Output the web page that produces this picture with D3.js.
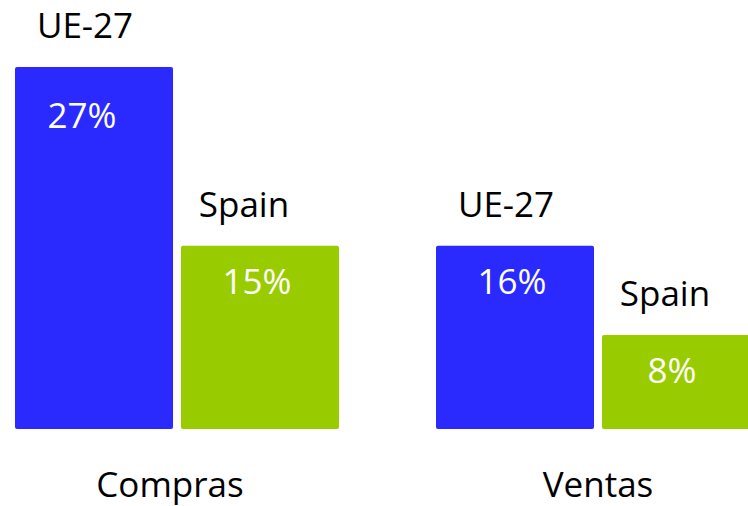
<!DOCTYPE html>
<html>
<head>
<meta charset="utf-8">
<script src="https://cdn.jsdelivr.net/npm/d3@7"></script>
<style>
  body { margin: 0; background: #fff; }
  svg { display: block; font-family: "Open Sans", sans-serif; }
</style>
</head>
<body>
<div id="chart"></div>
<script>
const width = 748;
const height = 506;

// categories and series
const categories = ['Compras', 'Ventas'];
const series = ['UE-27', 'Spain'];

// labels printed on the bars
const shareLabels = {
  'Compras': ['27%', '15%'],
  'Ventas': ['16%', '8%']
};

// bar lengths as drawn in the picture (same unit as the 16% / 8% bars)
const barLengths = {
  'Compras': [31.6, 16],
  'Ventas': [16, 8.2]
};

const colors = ['#2a2aff', '#99cc00'];

const svg = d3.select('#chart')
  .append('svg')
  .attr('width', width)
  .attr('height', height);

// group scale
const x0 = d3.scaleBand()
  .domain(categories)
  .range([15, 760])
  .paddingInner(0.2304)
  .paddingOuter(0);

// bars inside a group
const x1 = d3.scaleBand()
  .domain(series)
  .range([0, x0.bandwidth()])
  .paddingInner(0.048)
  .paddingOuter(0);

const y = d3.scaleLinear()
  .domain([0, 31.6])
  .range([429, 67]);

const rows = [];
categories.forEach(c => {
  series.forEach((s, i) => {
    rows.push({ cat: c, ser: s, idx: i, len: barLengths[c][i], label: shareLabels[c][i] });
  });
});

const bx = d => x0(d.cat) + x1(d.ser);
const cx = d => bx(d) + x1.bandwidth() / 2;
// centre of the part of the bar that is inside the picture
const visCx = d => (bx(d) + Math.min(bx(d) + x1.bandwidth(), width)) / 2;

// bars
svg.selectAll('rect.bar')
  .data(rows)
  .join('rect')
  .attr('class', 'bar')
  .attr('x', bx)
  .attr('y', d => y(d.len))
  .attr('width', x1.bandwidth())
  .attr('height', d => y(0) - y(d.len))
  .attr('rx', 2)
  .attr('fill', d => colors[d.idx]);

// series name above each bar
svg.selectAll('text.series')
  .data(rows)
  .join('text')
  .attr('class', 'series')
  .attr('x', d => cx(d) + (d.idx === 0 ? -9 : -16))
  .attr('y', d => y(d.len) - 29)
  .attr('text-anchor', 'middle')
  .style('font-size', '35px')
  .style('fill', '#000')
  .text(d => d.ser);

// percentage inside each bar (the tall one sits a bit lower and left)
svg.selectAll('text.value')
  .data(rows)
  .join('text')
  .attr('class', 'value')
  .attr('x', d => visCx(d) + (d.len > 20 ? -12 : -3))
  .attr('y', d => y(d.len) + (d.len > 20 ? 61 : 48))
  .attr('text-anchor', 'middle')
  .style('font-size', '35px')
  .style('fill', '#fff')
  .text(d => d.label);

// category labels
svg.selectAll('text.cat')
  .data(categories)
  .join('text')
  .attr('class', 'cat')
  .attr('x', (d, i) => x0(d) + x0.bandwidth() / 2 + (i === 0 ? -7 : 0))
  .attr('y', 497)
  .attr('text-anchor', 'middle')
  .style('font-size', '35px')
  .style('fill', '#000')
  .text(d => d);
</script>
</body>
</html>
